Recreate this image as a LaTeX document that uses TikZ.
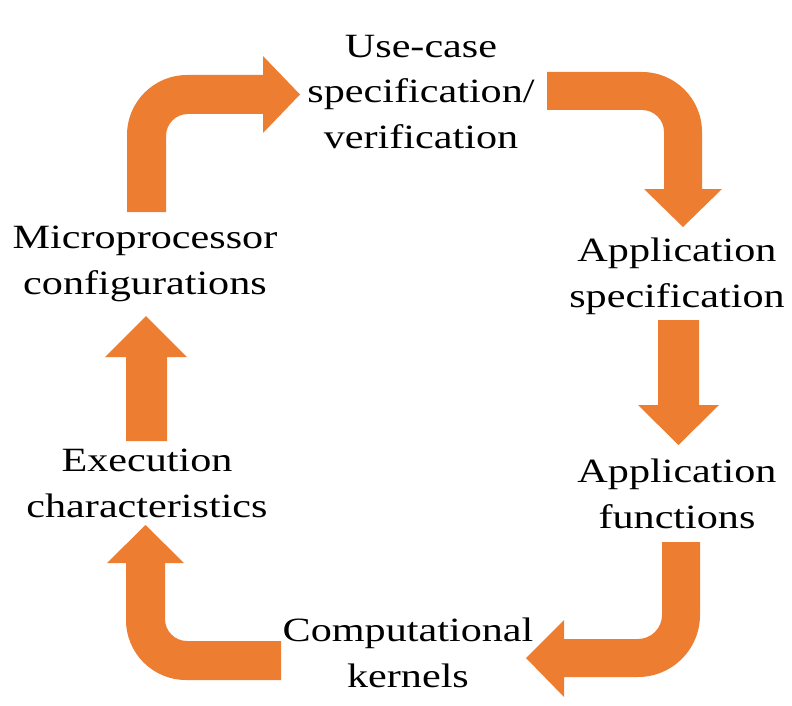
\documentclass[tikz,border=0pt]{standalone}
\usepackage{fontspec}
\setmainfont{Liberation Serif}[FakeStretch=1.24]
\definecolor{arroworange}{HTML}{ED7D31}
\tikzset{
  blockarrow/.style={fill=arroworange, draw=none},
  lbl/.style={align=center, inner sep=0pt, anchor=base, text=black,
    font=\fontsize{34}{45.5}\selectfont}
}
\begin{document}
\begin{tikzpicture}[x=1pt, y=-1pt]
\path[use as bounding box] (0,0) rectangle (792,706);

% labels (anchor = baseline of last line)
\node[lbl] (usecase) at (421,148) {Use-case\\specification/\\verification};
\node[lbl] (appspec) at (677,307) {Application\\specification};
\node[lbl] (appfun) at (677,528) {Application\\functions};
\node[lbl] (kernels) at (408,687) {Computational\\kernels};
\node[lbl] (exec) at (147,517) {Execution\\characteristics};
\node[lbl] (micro) at (145,294) {Microprocessor\\configurations};

% arrow 1: up then right (micro -> usecase)
\fill[blockarrow] (127,212) -- (127,135)
  .. controls (127,101.86) and (153.86,75) .. (187,75)
  -- (263,75) -- (263,56) -- (300,94.5) -- (263,133) -- (263,114)
  -- (188,114) .. controls (175.85,114) and (166,123.85) .. (166,136)
  -- (166,212) -- cycle;

% arrow 2: right then down (usecase -> appspec)
\fill[blockarrow] (547,72) -- (642,72)
  .. controls (675.14,72) and (702,98.86) .. (702,132)
  -- (702,189) -- (722,189) -- (683,227) -- (644,189) -- (664,189)
  -- (664,132) .. controls (664,119.85) and (654.15,110) .. (642,110)
  -- (547,110) -- cycle;

% arrow 3: straight down (appspec -> appfun)
\fill[blockarrow] (658,320) -- (699,320) -- (699,405) -- (719,405)
  -- (678.5,445) -- (638,405) -- (658,405) -- cycle;

% arrow 4: down then left (appfun -> kernels)
\fill[blockarrow] (662,542) -- (700,542) -- (700,615)
  .. controls (700,649.24) and (672.24,677) .. (638,677)
  -- (564,677) -- (564,697) -- (526,658) -- (564,620) -- (564,639)
  -- (638,639) .. controls (651.25,639) and (662,628.25) .. (662,615)
  -- cycle;

% arrow 5: left then up (kernels -> exec)
\fill[blockarrow] (281,641) -- (187,641)
  .. controls (174.85,641) and (165,631.15) .. (165,619)
  -- (165,563) -- (184,563) -- (145.5,525) -- (107,563) -- (126,563)
  -- (126,620) .. controls (126,653.14) and (152.86,680) .. (186,680)
  -- (281,680) -- cycle;

% arrow 6: straight up (exec -> micro)
\fill[blockarrow] (126,441) -- (126,357) -- (105,357) -- (146,316)
  -- (187,357) -- (167,357) -- (167,441) -- cycle;
\end{tikzpicture}
\end{document}
